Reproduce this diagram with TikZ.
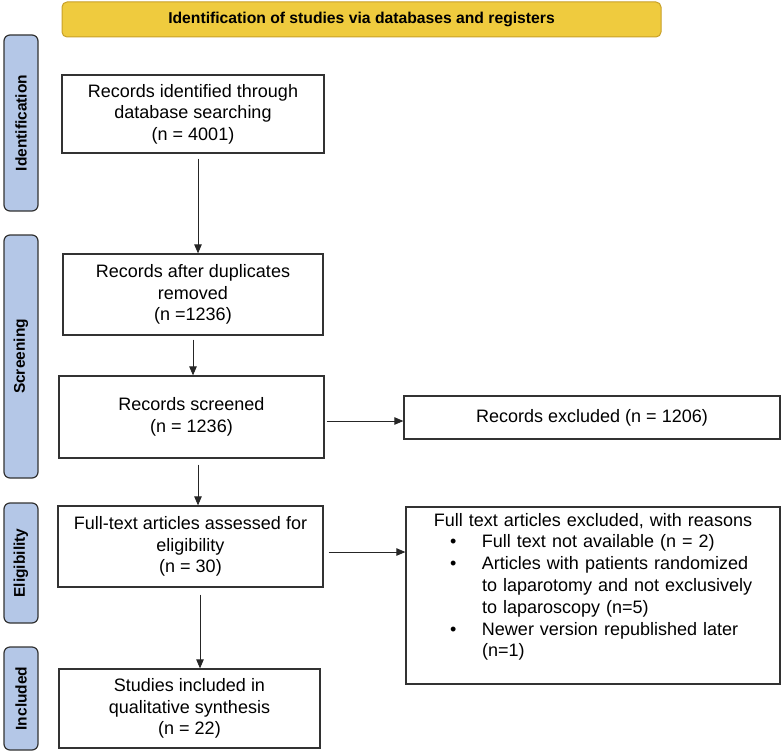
\documentclass[tikz,border=0pt]{standalone}
\usepackage{fontspec}
\setmainfont{Liberation Sans}
\usetikzlibrary{arrows.meta}

\definecolor{bannergold}{RGB}{239,203,62}
\definecolor{bannerline}{RGB}{200,160,40}
\definecolor{phaseblue}{RGB}{180,199,231}
\definecolor{boxline}{RGB}{50,50,50}

\newcommand{\exbullet}{\makebox[76pt][l]{\hspace{44pt}\textbullet}}
\newcommand{\exindent}{\hspace*{76pt}}

\begin{document}
\begin{tikzpicture}[x=1pt,y=-1pt,
    >={Triangle[length=9pt,width=7.5pt]},
    banner/.style={draw=bannerline,fill=bannergold,rounded corners=5pt,line width=1pt,
        minimum width=599pt,minimum height=35pt,inner sep=0pt,
        font=\fontsize{15.7}{18}\selectfont\bfseries},
    phase/.style={draw=boxline,fill=phaseblue,rounded corners=6pt,line width=1.2pt,
        minimum height=34pt,inner sep=0pt,rotate=90,
        font=\fontsize{15.5}{18}\selectfont\bfseries},
    stepbox/.style={draw=boxline,line width=1.3pt,inner sep=0pt,align=center,
        font=\fontsize{18}{21.5}\selectfont},
    flow/.style={->,line width=0.8pt,draw=black!85}]
    \useasboundingbox (0,0) rectangle (781,752);

    \node[banner] (banner) at (361.5,19.5) {Identification of studies via databases and registers};
    \node[phase,minimum width=176pt] (ident) at (21,123) {Identification};
    \node[phase,minimum width=243pt] (screen) at (21,356.5) {Screening};
    \node[phase,minimum width=120pt] (elig) at (21,563) {Eligibility};
    \node[phase,minimum width=103pt] (incl) at (21,698.5) {Included};

    \node[stepbox,minimum width=262pt,minimum height=78pt] (found) at (193,114) {Records identified through\\database searching\\(n = 4001)};
    \node[stepbox,minimum width=260pt,minimum height=81pt] (dedup) at (193,294.5) {Records after duplicates\\removed\\(n =1236)};
    \node[stepbox,minimum width=265pt,minimum height=82pt] (screened) at (191.5,417) {Records screened\\(n = 1236)};
    \node[stepbox,minimum width=265pt,minimum height=81pt] (fulltext) at (190.5,546.5) {Full-text articles assessed for\\eligibility\\(n = 30)};
    \node[stepbox,minimum width=261pt,minimum height=79pt] (studies) at (189.5,708.5) {Studies included in\\qualitative synthesis\\(n = 22)};

    \node[stepbox,minimum width=376pt,minimum height=43pt] (dropped) at (592,417.5) {Records excluded (n = 1206)};
    \node[stepbox,minimum width=374pt,minimum height=177pt] (reasons) at (593,595.5) {};
    \node[anchor=north,text width=374pt,inner sep=0pt,align=left,font=\fontsize{18}{21.8}\selectfont] (reasonlist) at ([yshift=-6.5pt]reasons.north)
        {\makebox[\linewidth]{Full text articles excluded, with reasons}\\
         \exbullet Full text not available (n = 2)\\
         \exbullet Articles with patients randomized\\
         \exindent to laparotomy and not exclusively\\
         \exindent to laparoscopy (n=5)\\
         \exbullet Newer version republished later\\
         \exindent (n=1)};

    \draw[flow] ([xshift=5pt,yshift=-5pt]found.south) -- ([xshift=5pt]dedup.north);
    \draw[flow] ([yshift=-4pt]dedup.south) -- (screened.north -| dedup.south);
    \draw[flow] ([xshift=6.5pt,yshift=-6pt]screened.south) -- ([xshift=7.5pt]fulltext.north);
    \draw[flow] ([xshift=9.5pt,yshift=-7pt]fulltext.south) -- ([xshift=10.5pt]studies.north);
    \coordinate (toexcl) at ([xshift=2pt,yshift=-4pt]screened.east);
    \draw[flow] (toexcl) -- (toexcl -| dropped.west);
    \coordinate (toreason) at ([xshift=5pt,yshift=-5.5pt]fulltext.east);
    \draw[flow] (toreason) -- (toreason -| reasons.west);
\end{tikzpicture}
\end{document}
